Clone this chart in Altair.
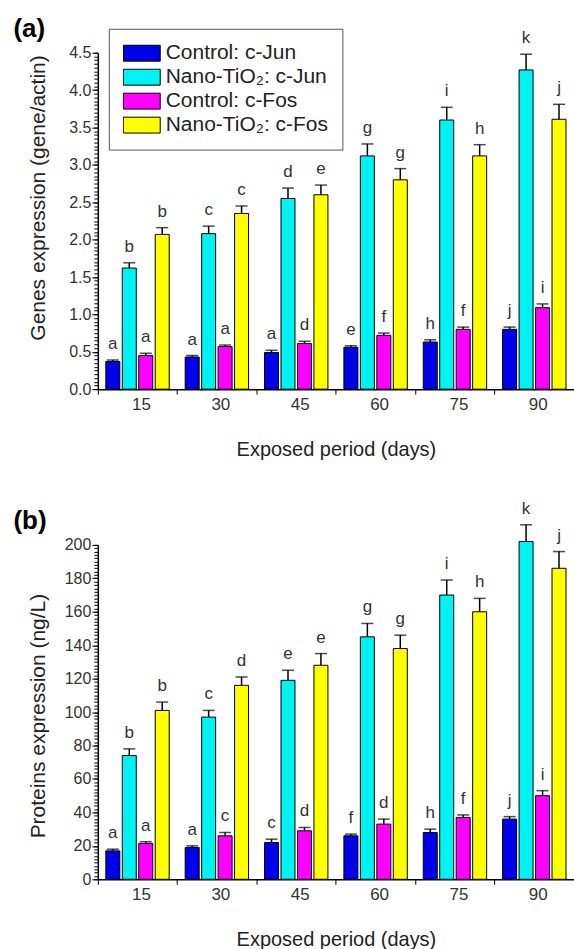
import altair as alt
import pandas as pd

days = ["15", "30", "45", "60", "75", "90"]
series = ["Control: c-Jun", "Nano-TiO\u2082: c-Jun", "Control: c-Fos", "Nano-TiO\u2082: c-Fos"]
colors = ["#0000e8", "#00f2f2", "#ff00ff", "#ffff00"]

# Panel (a): gene expression (gene/actin)
gene_ctrl_jun = [0.37, 0.43, 0.49, 0.56, 0.63, 0.80]
gene_ctrl_jun_err = [0.02, 0.02, 0.03, 0.02, 0.03, 0.03]
gene_nano_jun = [1.62, 2.08, 2.55, 3.12, 3.60, 4.27]
gene_nano_jun_err = [0.07, 0.10, 0.14, 0.16, 0.17, 0.21]
gene_ctrl_fos = [0.45, 0.57, 0.61, 0.72, 0.80, 1.09]
gene_ctrl_fos_err = [0.03, 0.02, 0.03, 0.03, 0.03, 0.05]
gene_nano_fos = [2.07, 2.35, 2.60, 2.80, 3.12, 3.61]
gene_nano_fos_err = [0.09, 0.10, 0.13, 0.15, 0.15, 0.20]
gene_letters = [
    ["a", "a", "a", "e", "h", "j"],
    ["b", "c", "d", "g", "i", "k"],
    ["a", "a", "d", "f", "f", "i"],
    ["b", "c", "e", "g", "h", "j"],
]
gene_major_step = 0.5
gene_max = 4.5
gene_minor_step = 0.05

# Panel (b): protein expression (ng/L)
prot_ctrl_jun = [17, 19, 22, 26, 28, 36]
prot_ctrl_jun_err = [1, 1, 2, 1, 2, 1.5]
prot_nano_jun = [74, 97, 119, 145, 170, 202]
prot_nano_jun_err = [4, 4, 6, 8, 9, 10]
prot_ctrl_fos = [21.5, 26, 29, 33, 37, 50]
prot_ctrl_fos_err = [1, 2, 2, 3, 1.5, 3]
prot_nano_fos = [101, 116, 128, 138, 160, 186]
prot_nano_fos_err = [5, 5, 7, 8, 8, 10]
prot_letters = [
    ["a", "a", "c", "f", "h", "j"],
    ["b", "c", "e", "g", "i", "k"],
    ["a", "c", "d", "d", "f", "i"],
    ["b", "d", "e", "g", "h", "j"],
]
prot_major_step = 20
prot_max = 200
prot_minor_step = 2

FONT = "Liberation Sans"
W = 477


def make_df(vals, errs, lets):
    rows = []
    for s, v, e, l in zip(series, vals, errs, lets):
        for d, vv, ee, ll in zip(days, v, e, l):
            rows.append(dict(day=d, series=s, value=vv, err=ee, top=vv + ee, letter=ll))
    return pd.DataFrame(rows)


def tick_values(ymax, step):
    n = int(round(ymax / step))
    return [round(i * step, 4) for i in range(n + 1)]


def panel(df, ymax, major_step, minor_step, ytitle, tag, fmt, lx, ly, height, toff, title_y):
    yscale = alt.Scale(domain=[0, ymax], nice=False, zero=True)
    base = alt.Chart(df).encode(
        x=alt.X(
            "day:N",
            sort=days,
            scale=alt.Scale(paddingInner=0, paddingOuter=0),
            title="Exposed period (days)",
            axis=alt.Axis(
                bandPosition=0, labelOffset=4, labelAngle=0, tickSize=5,
                labelPadding=2, labelFontSize=17, titleFontSize=20,
                titlePadding=27, titleFontWeight="normal",
                domainColor="black", tickColor="black", domainWidth=1.5,
                labelColor="#333", titleColor="#222",
            ),
        ),
        xOffset=alt.XOffset(
            "series:N", sort=series,
            scale=alt.Scale(paddingInner=0.15, paddingOuter=0.485),
        ),
    )
    bars = base.mark_bar(stroke="black", strokeWidth=1).encode(
        y=alt.Y(
            "value:Q", scale=yscale, title=ytitle,
            axis=alt.Axis(
                values=tick_values(ymax, major_step), format=fmt,
                tickSize=6, labelPadding=1, orient="left",
                labelFontSize=16, titleFontSize=21, titleFontWeight="normal",
                titleX=-59, titleY=title_y, titleBaseline="middle",
                titleAlign="center", titleAngle=270,
                domainColor="black", tickColor="black",
                domainWidth=1.5, labelColor="#333", titleColor="#222",
                grid=False, labelOverlap=False,
            ),
        ),
        color=alt.Color(
            "series:N", sort=series,
            scale=alt.Scale(domain=series, range=colors),
            legend=alt.Legend(
                title=None, orient="none", legendX=lx, legendY=ly,
                symbolType="M-1,-0.43L1,-0.43L1,0.43L-1,0.43Z",
                symbolSize=1369, symbolStrokeColor="black",
                symbolStrokeWidth=1, symbolOpacity=1,
                clipHeight=21, labelLimit=0,
                labelFontSize=21, labelFont=FONT, labelColor="#222",
                labelOffset=5, strokeColor="#555", fillColor="white",
                padding=14, rowPadding=2,
            ),
        ),
    )
    rules = base.mark_rule(color="black", strokeWidth=1.5).encode(
        y=alt.Y("value:Q", scale=yscale, axis=None),
        y2="top:Q",
    )
    caps = base.mark_tick(color="black", thickness=1.5, size=12).encode(
        y=alt.Y("top:Q", scale=yscale, axis=None),
    )
    text = base.mark_text(
        baseline="bottom", dy=-7, fontSize=17, font=FONT, color="#333"
    ).encode(
        y=alt.Y("top:Q", scale=yscale, axis=None),
        text="letter:N",
    )
    # minor ticks: a second axis on the same scale, moved onto the left edge
    minor = base.mark_point(opacity=0).encode(
        y=alt.Y(
            "value:Q", scale=yscale, title=None,
            axis=alt.Axis(
                values=tick_values(ymax, minor_step), labels=False,
                domain=False, tickSize=4, orient="right", offset=-(W + 4),
                grid=False, tickColor="black", tickWidth=1,
            ),
        ),
    )
    return (
        alt.layer(bars, rules, caps, text, minor)
        .resolve_axis(y="independent")
        .properties(
            width=W, height=height,
            title=alt.TitleParams(
                tag, anchor="start", frame="bounds", fontSize=26,
                fontWeight="bold", font=FONT, color="black", dx=-14.5, offset=toff,
            ),
        )
    )


df_a = make_df(
    [gene_ctrl_jun, gene_nano_jun, gene_ctrl_fos, gene_nano_fos],
    [gene_ctrl_jun_err, gene_nano_jun_err, gene_ctrl_fos_err, gene_nano_fos_err],
    gene_letters,
)
df_b = make_df(
    [prot_ctrl_jun, prot_nano_jun, prot_ctrl_fos, prot_nano_fos],
    [prot_ctrl_jun_err, prot_nano_jun_err, prot_ctrl_fos_err, prot_nano_fos_err],
    prot_letters,
)

pa = panel(df_a, gene_max, gene_major_step, gene_minor_step,
           "Genes expression (gene/actin)", "(a)", ".1f", 11, -24, 337, -13, 145)
pb = panel(df_b, prot_max, prot_major_step, prot_minor_step,
           "Proteins expression (ng/L)", "(b)", "d", 13, -25, 335, -34, 171)

chart = (
    alt.vconcat(pa, pb, spacing=40)
    .properties(padding={"left": 13, "top": 15, "right": 0, "bottom": 0})
    .configure(font=FONT)
    .configure_view(stroke=None)
    .configure_axis(labelFont=FONT, titleFont=FONT)
)

chart.save("out.html", embed_options={"renderer": "svg", "actions": False})
